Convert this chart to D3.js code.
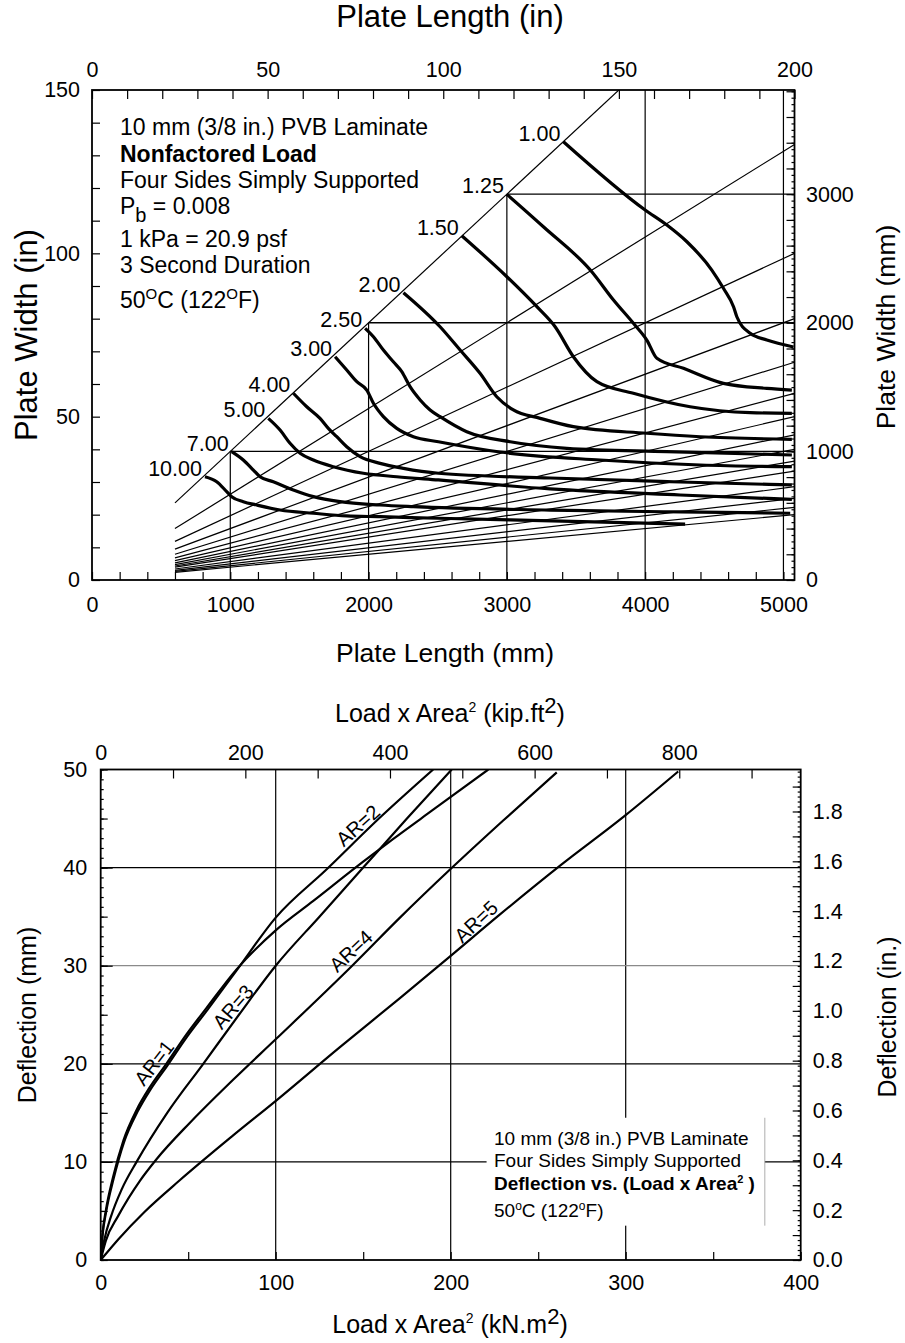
<!DOCTYPE html>
<html><head><meta charset="utf-8">
<script src="https://cdn.jsdelivr.net/npm/d3@7"></script>
<style>
body{margin:0;background:#fff;}
svg{display:block;}
</style></head><body>
<svg id="c" width="905" height="1343"></svg>
<script>
// ================= DATA : top chart (lengths / widths in mm) =================
const topLengthMmLabels = [0,1000,2000,3000,4000,5000];
const topLengthInLabels = [0,50,100,150,200];
const topWidthInLabels  = [0,50,100,150];
const topWidthMmLabels  = [0,1000,2000,3000];
const aspectRatios = [1,1.5,2,2.5,3,3.5,4,4.5,5,5.5,6,7,8,9,10];
const aspectLengthRange = [600,5080];
const squareCornersMm = [1000,2000,3000];
const fullVerticalMm = [4000,5000];

const load100 = [[3409,3408],[4000,2877],[4157,2760],[4302,2630],[4482,2410],[4566,2268],[4639,2125],[4663,2047],[4760,1918],[4880,1866],[5073,1812]];
const load125 = [[3000,2999],[3264,2747],[3614,2397],[3771,2177],[3915,1996],[4012,1866],[4085,1724],[4277,1646],[4566,1529],[4880,1490],[5061,1477]];
const load150 = [[2674,2677],[3000,2358],[3217,2125],[3349,1969],[3481,1736],[3651,1542],[3915,1452],[4325,1347],[4760,1301],[5061,1296]];
const load200 = [[2252,2234],[2517,1969],[2662,1788],[2806,1607],[2927,1425],[3047,1322],[3241,1257],[3481,1192],[4012,1141],[4398,1114],[5061,1094]];
const load250 = [[1975,1957],[2035,1892],[2107,1788],[2179,1697],[2240,1620],[2300,1503],[2373,1400],[2445,1322],[2517,1270],[2710,1153],[3024,1075],[3434,1024],[4157,998],[5061,972]];
const load300 = [[1758,1736],[1842,1633],[1915,1542],[1987,1477],[2035,1374],[2107,1270],[2204,1179],[2324,1114],[2505,1075],[2951,995],[3674,933],[4398,894],[5061,881]];
const load400 = [[1456,1452],[1553,1347],[1649,1257],[1709,1179],[1770,1114],[1842,1036],[1939,959],[2083,907],[2252,868],[2505,830],[3313,793],[4253,762],[5061,739]];
const load500 = [[1275,1257],[1360,1166],[1432,1063],[1505,985],[1601,933],[1745,881],[1962,830],[2204,803],[2505,778],[3313,708],[4253,661],[5061,627]];
const load700 = [[1010,998],[1094,933],[1167,855],[1215,803],[1311,764],[1456,700],[1601,648],[1794,609],[2083,583],[2324,570],[3313,544],[4253,529],[5049,519]];
const load1000 = [[817,803],[902,764],[974,687],[1010,648],[1094,609],[1191,583],[1360,544],[1601,519],[1842,498],[2083,492],[2505,480],[3400,458],[4289,435]];
const loadLabels = ["1.00","1.25","1.50","2.00","2.50","3.00","4.00","5.00","7.00","10.00"];
const loadSeries = [load100,load125,load150,load200,load250,load300,load400,load500,load700,load1000];

// ================= DATA : bottom chart (kN.m^2 , mm) =================
const loadAreaKnLabels  = [0,100,200,300,400];
const loadAreaKipLabels = [0,200,400,600,800];
const deflMmLabels = [0,10,20,30,40,50];
const arNames = ["AR=1","AR=2","AR=3","AR=4","AR=5"];
const ar1 = [[0,0],[1,2.6],[3,5.1],[7,8.4],[13,12.2],[20.5,15.3],[28,17.6],[37.5,20],[49,23],[60.5,25.7],[77.5,29.6],[100,33.6],[121.5,36.6],[150,40.6],[167,42.9],[190,45.9],[221.5,50]];
const ar2 = [[0,0],[1,2.4],[3,4.8],[7.4,8.3],[13.3,12],[21,15.1],[28.5,17.4],[38,19.8],[49.5,22.8],[61,25.5],[78,29.6],[100,34.9],[129,39.8],[159.6,45.1],[190,50]];
const ar3 = [[0,0],[2,2],[6,4.5],[12,7.2],[20.5,10],[38,15],[58.6,20],[79,25],[100,30],[125,35],[150,40],[175,45],[200.6,50]];
const ar4 = [[0,0],[3,2],[10,4.5],[22.5,8.1],[32,10.3],[51,14],[75.8,18.4],[100.6,22.6],[143.7,30],[171,34.9],[199.6,39.8],[230,44.8],[260.6,49.7]];
const ar5 = [[0,0],[10,2.1],[25,4.9],[45,8.1],[75,12.6],[100.6,16.3],[136.7,21.7],[171,26.7],[200,31],[228,35.2],[262.5,40.2],[299.6,45.3],[330,49.8]];
const arSeries = [ar1,ar2,ar3,ar4,ar5];
// label anchor (data units) and angle
const arLabelPos = [[30.5,20.1],[147,44.3],[75.6,25.8],[143,31.5],[214.5,34.5]];
const arLabelAngle = [-52,-42,-49,-43,-43];

// ================= drawing =================
const FONT = '"Liberation Sans", Arial, Helvetica, sans-serif';
const svg = d3.select("#c").attr("font-family", FONT);

function axis(gen, scale, vals, len, pad, fmt, fs, tx, ty) {
  const a = gen(scale).tickValues(vals).tickSizeInner(-len).tickSizeOuter(0).tickPadding(pad).tickFormat(fmt || (() => ""));
  const g = svg.append("g").attr("transform", `translate(${tx},${ty})`).call(a);
  g.attr("font-family", FONT).attr("font-size", fs || 21.5);
  g.select(".domain").remove();
  g.selectAll(".tick line").attr("stroke", "#000").attr("stroke-width", 1.2);
  g.selectAll(".tick text").attr("fill", "#000");
  return g;
}
function rich(g, x, y, parts, o) {
  const t = g.append("text").attr("x", x).attr("y", y).attr("font-size", o.size)
    .attr("text-anchor", o.anchor || "start").attr("font-weight", o.weight || "normal").attr("fill", "#000");
  if (o.rotate) t.attr("transform", `rotate(${o.rotate},${x},${y})`);
  let cur = 0;
  parts.forEach(p => {
    const s = t.append("tspan").text(p.t);
    const want = p.dy || 0;
    if (want !== cur) { s.attr("dy", want - cur); cur = want; }
    if (p.size) s.attr("font-size", p.size);
    if (p.weight) s.attr("font-weight", p.weight);
  });
  return t;
}

// ---------------- TOP CHART ----------------
const L0 = 92, R0 = 794.5, T0 = 90, B0 = 580;
const tX = d3.scaleLinear().domain([0,5080]).range([L0,R0]);
const tXin = d3.scaleLinear().domain([0,200]).range([L0,R0]);
const tY = d3.scaleLinear().domain([0,3810]).range([B0,T0]);
const tYin = d3.scaleLinear().domain([0,150]).range([B0,T0]);

const defs = svg.append("defs");
defs.append("clipPath").attr("id","clipT").append("rect").attr("x",L0).attr("y",T0).attr("width",R0-L0).attr("height",B0-T0);
const gT = svg.append("g").attr("clip-path","url(#clipT)");

squareCornersMm.forEach(v => {
  gT.append("line").attr("x1",tX(v)).attr("x2",tX(v)).attr("y1",tY(0)).attr("y2",tY(v)).attr("stroke","#000").attr("stroke-width",1.2);
  gT.append("line").attr("x1",tX(v)).attr("x2",tX(5080)).attr("y1",tY(v)).attr("y2",tY(v)).attr("stroke","#000").attr("stroke-width",1.4);
});
fullVerticalMm.forEach(v => {
  gT.append("line").attr("x1",tX(v)).attr("x2",tX(v)).attr("y1",tY(0)).attr("y2",tY(3810)).attr("stroke","#000").attr("stroke-width",1.2);
});
const lineT = d3.line().x(d => tX(d[0])).y(d => tY(d[1]));
aspectRatios.forEach(r => {
  const pts = aspectLengthRange.map(L => [L, L / r]);
  gT.append("path").attr("d", lineT(pts)).attr("fill","none").attr("stroke","#000").attr("stroke-width",1.2);
});
const curveT = d3.line().x(d => tX(d[0])).y(d => tY(d[1])).curve(d3.curveMonotoneX);
loadSeries.forEach(s => {
  gT.append("path").attr("d", curveT(s)).attr("fill","none").attr("stroke","#000").attr("stroke-width",3.2).attr("stroke-linejoin","round");
});
loadSeries.forEach((s,i) => {
  svg.append("text").attr("x", tX(s[0][0]) - 3).attr("y", tY(s[0][1]) - 1)
    .attr("text-anchor","end").attr("font-size",21.5).text(loadLabels[i]);
});
svg.append("rect").attr("x",L0).attr("y",T0).attr("width",R0-L0).attr("height",B0-T0).attr("fill","none").attr("stroke","#000").attr("stroke-width",1.8);

axis(d3.axisBottom, tX, d3.range(0,5001,200), 8, 16.5, d => topLengthMmLabels.includes(d) ? d : "", 21.5, 0, B0);
axis(d3.axisTop, tXin, d3.range(0,201,10), 9, 13, d => topLengthInLabels.includes(d) ? d : "", 21.5, 0, T0);
axis(d3.axisLeft, tYin, d3.range(0,151,10), 8, 12, d => topWidthInLabels.includes(d) ? d : "", 21.5, L0, 0);
axis(d3.axisRight, tY, d3.range(0,3801,50), 3, 0, null, 21.5, R0, 0);
axis(d3.axisRight, tY, d3.range(0,3801,200), 8, 11.5, d => topWidthMmLabels.includes(d) ? d : "", 21.5, R0, 0);

rich(svg, 450, 27, [{t:"Plate Length (in)"}], {size:31, anchor:"middle"});
rich(svg, 445, 662, [{t:"Plate Length (mm)"}], {size:26.5, anchor:"middle"});
rich(svg, 37, 335, [{t:"Plate Width (in)"}], {size:31, anchor:"middle", rotate:-90});
rich(svg, 895, 327, [{t:"Plate Width (mm)"}], {size:26.5, anchor:"middle", rotate:-90});

const gA = svg.append("g");
rich(gA, 120, 135, [{t:"10 mm (3/8 in.) PVB Laminate"}], {size:23});
rich(gA, 120, 161.7, [{t:"Nonfactored Load"}], {size:23, weight:"bold"});
rich(gA, 120, 188.3, [{t:"Four Sides Simply Supported"}], {size:23});
rich(gA, 120, 214, [{t:"P"},{t:"b",dy:8,size:20},{t:" = 0.008"}], {size:23});
rich(gA, 120, 246.7, [{t:"1 kPa = 20.9 psf"}], {size:23});
rich(gA, 120, 273.3, [{t:"3 Second Duration"}], {size:23});
rich(gA, 120, 308.3, [{t:"50"},{t:"O",dy:-9,size:15},{t:"C (122"},{t:"O",dy:-9,size:15},{t:"F)"}], {size:23});

// ---------------- BOTTOM CHART ----------------
const L1 = 100.7, R1 = 800.7, T1 = 769.5, B1 = 1260;
const KIPFT2_TO_KNM2 = 4.448222 * 0.09290304;
const bX = d3.scaleLinear().domain([0,400]).range([L1,R1]);
const bXkip = d3.scaleLinear().domain([0,400 / KIPFT2_TO_KNM2]).range([L1,R1]);
const bY = d3.scaleLinear().domain([0,50]).range([B1,T1]);
const bYin = d3.scaleLinear().domain([0,50/25.4]).range([B1,T1]);

defs.append("clipPath").attr("id","clipB").append("rect").attr("x",L1).attr("y",T1).attr("width",R1-L1).attr("height",B1-T1);
const gB = svg.append("g").attr("clip-path","url(#clipB)");
[100,200,300].forEach(v => gB.append("line").attr("x1",bX(v)).attr("x2",bX(v)).attr("y1",B1).attr("y2",T1).attr("stroke","#000").attr("stroke-width",1.2));
[10,20,30,40].forEach(v => gB.append("line").attr("x1",L1).attr("x2",R1).attr("y1",bY(v)).attr("y2",bY(v)).attr("stroke", v===30?"#8a8a8a":"#000").attr("stroke-width",1.3));

const boxX0 = bX(220.5), boxX1 = bX(379.5), boxY0 = bY(14.5), boxY1 = bY(3.5);
gB.append("rect").attr("x",boxX0).attr("y",boxY0).attr("width",boxX1-boxX0).attr("height",boxY1-boxY0).attr("fill","#fff");
gB.append("line").attr("x1",boxX1).attr("x2",boxX1).attr("y1",boxY0).attr("y2",boxY1).attr("stroke","#999").attr("stroke-width",0.8);

const curveB = d3.line().x(d => bX(d[0])).y(d => bY(d[1])).curve(d3.curveMonotoneX);
arSeries.forEach(s => gB.append("path").attr("d", curveB(s)).attr("fill","none").attr("stroke","#000").attr("stroke-width",2.2));
arSeries.forEach((s,i) => {
  const p = arLabelPos[i];
  rich(svg, bX(p[0]), bY(p[1]), [{t:arNames[i]}], {size:20, anchor:"middle", rotate:arLabelAngle[i]}).attr("dominant-baseline","central");
});

svg.append("rect").attr("x",L1).attr("y",T1).attr("width",R1-L1).attr("height",B1-T1).attr("fill","none").attr("stroke","#000").attr("stroke-width",1.8);

axis(d3.axisBottom, bX, d3.range(0,401,50), 8, 15, d => loadAreaKnLabels.includes(d) ? d : "", 21.5, 0, B1);
axis(d3.axisTop, bXkip, d3.range(0,901,100), 9, 10, d => loadAreaKipLabels.includes(d) ? d : "", 21.5, 0, T1);
axis(d3.axisLeft, bY, d3.range(0,51,1), 3, 0, null, 21.5, L1, 0);
axis(d3.axisLeft, bY, d3.range(0,51,5), 7, 13.5, d => deflMmLabels.includes(d) ? d : "", 21.5, L1, 0);
axis(d3.axisLeft, bY, [10,20,30,40], 12, 0, null, 21.5, L1, 0);
axis(d3.axisRight, bYin, d3.range(0,99).map(i => i*0.02), 3, 0, null, 21.5, R1, 0);
axis(d3.axisRight, bYin, d3.range(0,20).map(i => i/10), 8, 12, (d,i) => i % 2 === 0 ? d3.format(".1f")(d) : "", 21.5, R1, 0);

rich(svg, 450, 722, [{t:"Load x Area"},{t:"2",dy:-10,size:14},{t:" (kip.ft"},{t:"2",dy:-9,size:22},{t:")"}], {size:25, anchor:"middle"});
rich(svg, 450, 1333, [{t:"Load x Area"},{t:"2",dy:-10,size:14},{t:" (kN.m"},{t:"2",dy:-9,size:22},{t:")"}], {size:25, anchor:"middle"});
rich(svg, 36, 1015, [{t:"Deflection (mm)"}], {size:25, anchor:"middle", rotate:-90});
rich(svg, 896, 1017, [{t:"Deflection (in.)"}], {size:25, anchor:"middle", rotate:-90});

rich(svg, 494, 1145, [{t:"10 mm (3/8 in.) PVB Laminate"}], {size:19});
rich(svg, 494, 1166.5, [{t:"Four Sides Simply Supported"}], {size:19});
rich(svg, 494, 1190, [{t:"Deflection vs. (Load x Area"},{t:"2",dy:-7,size:11},{t:" )"}], {size:19, weight:"bold"});
rich(svg, 494, 1216.5, [{t:"50"},{t:"o",dy:-7,size:12},{t:"C (122"},{t:"o",dy:-7,size:12},{t:"F)"}], {size:19});
</script>
</body></html>
